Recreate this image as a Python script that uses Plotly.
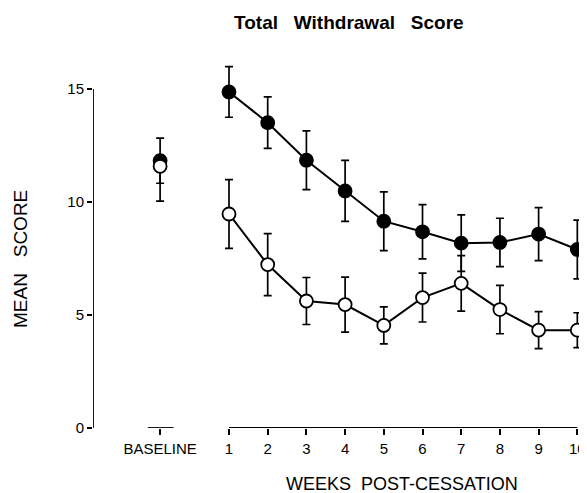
import plotly.graph_objects as go

weeks = [1, 2, 3, 4, 5, 6, 7, 8, 9, 10]
baseline_pos = -0.78
filled_baseline = 11.83
filled_baseline_err = 1.0
open_baseline = 11.58
open_baseline_err_up = 0.5
open_baseline_err_down = 1.54
filled_vals = [14.87, 13.51, 11.85, 10.49, 9.15, 8.68, 8.18, 8.21, 8.58, 7.90]
filled_err = [1.12, 1.14, 1.3, 1.35, 1.3, 1.2, 1.25, 1.07, 1.17, 1.3]
open_vals = [9.47, 7.23, 5.62, 5.46, 4.54, 5.77, 6.40, 5.24, 4.33, 4.33]
open_err = [1.52, 1.37, 1.04, 1.22, 0.82, 1.08, 1.23, 1.07, 0.82, 0.77]
tick_vals = [baseline_pos] + weeks
tick_text = ["BASELINE"] + [str(w) for w in weeks]
y_ticks = [0, 5, 10, 15]

FONT = "Liberation Sans, Arial, sans-serif"

W, H = 579, 485           # page has an 8px body margin
L, R, T, B = 85, 0, 35, 65
PW, PH = W - L - R, H - T - B
X_LEFT, X_RIGHT = -2.514, 10.25
Y_TOP = PH / 22.6

fig = go.Figure()

eb = dict(type="data", thickness=1.7, width=4, color="black")

def add(xs, ys, errs, filled, mode, errs_minus=None):
    err = dict(array=errs, **eb)
    if errs_minus is not None:
        err.update(symmetric=False, arrayminus=errs_minus)
    fig.add_trace(go.Scatter(
        x=xs, y=ys, mode=mode,
        line=dict(color="black", width=2),
        marker=dict(size=13, color="black" if filled else "white",
                    line=dict(color="black", width=1.8)),
        error_y=err,
        cliponaxis=False, showlegend=False, hoverinfo="skip"))

add(weeks, filled_vals, filled_err, True, "lines+markers")
add(weeks, open_vals, open_err, False, "lines+markers")
add([baseline_pos], [filled_baseline], [filled_baseline_err], True, "markers")
add([baseline_pos], [open_baseline], [open_baseline_err_up], False, "markers",
    [open_baseline_err_down])

# axis lines
fig.add_shape(type="line", x0=X_LEFT, x1=X_LEFT, y0=0, y1=15, xref="x", yref="y",
              line=dict(color="black", width=1.8))
fig.add_shape(type="line", x0=1, x1=10, y0=0, y1=0, xref="x", yref="y",
              line=dict(color="black", width=1.8))
fig.add_shape(type="line", x0=-1.10, x1=-0.43, y0=0, y1=0, xref="x", yref="y",
              line=dict(color="black", width=1.8))

def px(fx, fy):
    return (fx - L) / PW, (H - B - fy) / PH

tx, ty = px(341, 14)
mx, my = px(12, 251)
wx, wy = px(394, 476)

fig.update_layout(
    width=W, height=H,
    margin=dict(l=L, r=R, t=T, b=B, pad=0),
    paper_bgcolor="white", plot_bgcolor="white",
    font=dict(family=FONT, color="black"),
    xaxis=dict(range=[X_LEFT, X_RIGHT], showline=False, showgrid=False, zeroline=False,
               tickvals=tick_vals, ticktext=tick_text, ticks="outside",
               ticklen=6, tickwidth=1.7, tickcolor="black", ticklabelstandoff=1,
               tickfont=dict(size=15, family=FONT)),
    yaxis=dict(range=[0, Y_TOP], showline=False, showgrid=False, zeroline=False,
               tickvals=y_ticks, ticks="outside", ticklen=5, tickwidth=1.7,
               tickcolor="black", tickfont=dict(size=15, family=FONT)),
    annotations=[
        dict(text="<b>Total   Withdrawal   Score</b>", x=tx, y=ty,
             xanchor="center", yanchor="middle",
             xref="paper", yref="paper", showarrow=False,
             font=dict(size=19, family=FONT)),
        dict(text="MEAN   SCORE", x=mx, y=my, textangle=-90,
             xanchor="center", yanchor="middle",
             xref="paper", yref="paper", showarrow=False,
             font=dict(size=19, family=FONT)),
        dict(text="WEEKS  POST-CESSATION", x=wx, y=wy,
             xanchor="center", yanchor="middle",
             xref="paper", yref="paper", showarrow=False,
             font=dict(size=18, family=FONT)),
    ],
)

fig.write_html("out.html")
